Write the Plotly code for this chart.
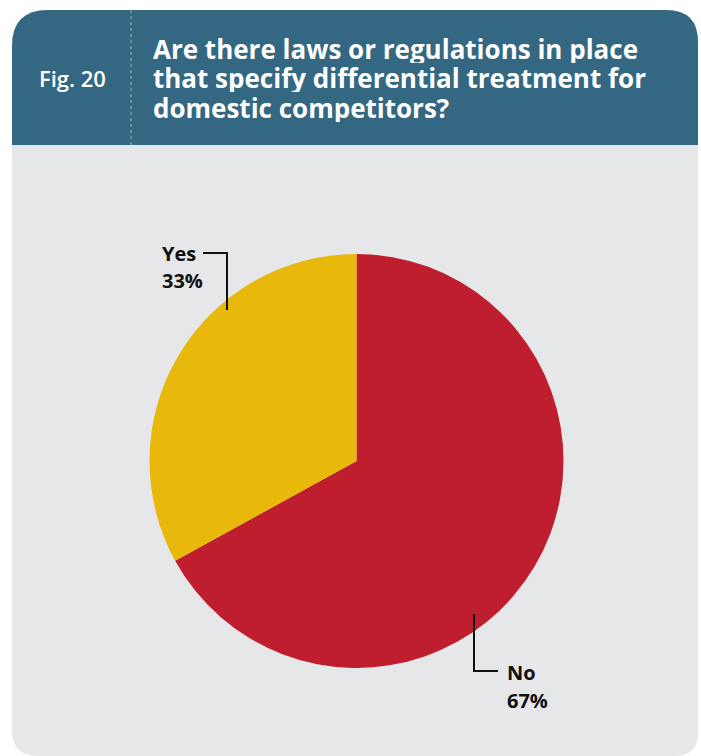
import plotly.graph_objects as go

# Survey answers
labels = ["No", "Yes"]
shares = [67, 33]
colors = ["#BE1E2D", "#E8B80B"]

title_lines = [
    "Are there laws or regulations in place",
    "that specify differential treatment for",
    "domestic competitors?",
]
fig_tag = "Fig. 20"

W, H = 701, 756


def px(x):
    return x / W


def py(y):
    return 1 - y / H


def rounded_rect(x0, y0, x1, y1, rtl, rtr, rbr, rbl):
    # path in pixel space (y down), converted to paper coordinates
    def P(x, y):
        return f"{px(x):.5f},{py(y):.5f}"
    d = f"M {P(x0 + rtl, y0)} L {P(x1 - rtr, y0)} "
    d += f"Q {P(x1, y0)} {P(x1, y0 + rtr)} " if rtr else ""
    d += f"L {P(x1, y1 - rbr)} "
    d += f"Q {P(x1, y1)} {P(x1 - rbr, y1)} " if rbr else ""
    d += f"L {P(x0 + rbl, y1)} "
    d += f"Q {P(x0, y1)} {P(x0, y1 - rbl)} " if rbl else ""
    d += f"L {P(x0, y0 + rtl)} "
    d += f"Q {P(x0, y0)} {P(x0 + rtl, y0)} Z" if rtl else "Z"
    return d


shapes = [
    # card body
    dict(type="path", xref="paper", yref="paper",
         path=rounded_rect(12, 10, 698, 756, 36, 32, 24, 26),
         fillcolor="#E6E7E8", line=dict(width=0), layer="below"),
    # header band
    dict(type="path", xref="paper", yref="paper",
         path=rounded_rect(12, 10, 698, 145, 36, 32, 0, 0),
         fillcolor="#346781", line=dict(width=0), layer="below"),
    # dotted divider in header
    dict(type="line", xref="paper", yref="paper",
         x0=px(131), x1=px(131), y0=py(10), y1=py(145),
         line=dict(color="#9DB3C0", width=1, dash="dot")),
    # leader for Yes
    dict(type="path", xref="paper", yref="paper",
         path=f"M {px(203)},{py(253)} L {px(227)},{py(253)} L {px(227)},{py(310)}",
         line=dict(color="#111111", width=2)),
    # leader for No
    dict(type="path", xref="paper", yref="paper",
         path=f"M {px(474)},{py(614)} L {px(474)},{py(671)} L {px(498)},{py(671)}",
         line=dict(color="#111111", width=2)),
]

cx, cy, r = 356.5, 461, 207

fig = go.Figure(go.Pie(
    labels=labels,
    values=shares,
    sort=False,
    direction="clockwise",
    rotation=0,
    marker=dict(colors=colors, line=dict(width=0)),
    textinfo="none",
    hoverinfo="label+percent",
    domain=dict(x=[px(cx - r), px(cx + r)], y=[py(cy + r), py(cy - r)]),
    showlegend=False,
))

font_main = "Open Sans"
annotations = [
    dict(x=px(37), y=py(78), xref="paper", yref="paper", xanchor="left", yanchor="middle",
         text=fig_tag, showarrow=False,
         font=dict(family=font_main, size=22, color="white", weight=600)),
]
for i, line in enumerate(title_lines):
    annotations.append(dict(
        x=px(151), y=py(48.5 + 29.5 * i), xref="paper", yref="paper",
        xanchor="left", yanchor="middle", text=f"<b>{line}</b>", showarrow=False,
        height=29, valign="middle",
        font=dict(family=font_main, size=26, color="white")))

label_pos = {"Yes": (160, 253), "No": (505, 672)}
for lab, val in zip(labels, shares):
    x, y = label_pos[lab]
    for j, t in enumerate([lab, f"{val}%"]):
        annotations.append(dict(
            x=px(x), y=py(y + 28 * j), xref="paper", yref="paper",
            xanchor="left", yanchor="middle", text=f"<b>{t}</b>", showarrow=False,
            height=27, valign="middle",
            font=dict(family=font_main, size=20, color="#111111")))

fig.update_layout(
    width=W, height=H,
    margin=dict(l=0, r=0, t=0, b=0),
    paper_bgcolor="white",
    plot_bgcolor="white",
    shapes=shapes,
    annotations=annotations,
)

fig.write_html("out.html")
